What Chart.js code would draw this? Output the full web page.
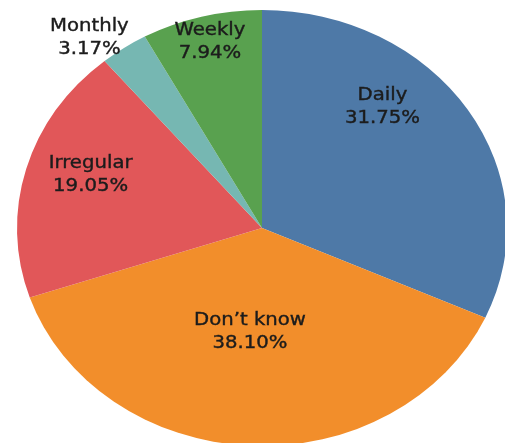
<!DOCTYPE html>
<html>
<head>
<meta charset="utf-8">
<script src="https://cdn.jsdelivr.net/npm/chart.js@4"></script>
<style>
  html, body { margin: 0; padding: 0; background: #fff; overflow: hidden; }
  #pie { display: block; }
</style>
</head>
<body>
<canvas id="pie" width="505" height="460"></canvas>
<script>
// Frequency breakdown
const categories = ['Daily', 'Don\u2019t know', 'Irregular', 'Monthly', 'Weekly'];
const shares = [31.75, 38.10, 19.05, 3.17, 7.94];
const colors = ['#4e79a7', '#f28e2b', '#e15759', '#76b7b2', '#59a14f'];

// label placement: fraction of the radius and angle nudge (degrees)
const labelSpots = [
  { r: 0.74, da: -15.5 },
  { r: 0.48, da: 3 },
  { r: 0.74, da: 3.3 },
  { r: 1.12, da: -4.7 },
  { r: 0.88, da: 0.3 }
];

const STRETCH = 245 / 218; // pie is drawn wider than tall

const stretchPlugin = {
  id: 'stretch',
  beforeDatasetsDraw(chart) {
    const { ctx, chartArea } = chart;
    const cx = (chartArea.left + chartArea.right) / 2;
    ctx.save();
    ctx.translate(cx, 0);
    ctx.scale(STRETCH, 1);
    ctx.translate(-cx, 0);
  },
  afterDatasetsDraw(chart) {
    const { ctx } = chart;
    const meta = chart.getDatasetMeta(0);
    ctx.fillStyle = '#1c1c1c';
    ctx.strokeStyle = '#1c1c1c';
    ctx.lineWidth = 0.4;
    ctx.font = '17.5px "DejaVu Sans"';
    ctx.textAlign = 'center';
    ctx.textBaseline = 'middle';
    meta.data.forEach((arc, i) => {
      const spot = labelSpots[i];
      const mid = (arc.startAngle + arc.endAngle) / 2 + spot.da * Math.PI / 180;
      const r = arc.outerRadius * spot.r;
      const px = arc.x + Math.cos(mid) * r;
      const py = arc.y + Math.sin(mid) * r;
      const lines = [categories[i], shares[i].toFixed(2) + '%'];
      lines.forEach((t, k) => {
        const ty = py + (k === 0 ? -11.5 : 11.5);
        ctx.fillText(t, px, ty);
        ctx.strokeText(t, px, ty);
      });
    });
    ctx.restore();
  }
};

new Chart(document.getElementById('pie'), {
  type: 'pie',
  data: {
    labels: categories,
    datasets: [{
      data: shares,
      backgroundColor: colors,
      borderWidth: 0
    }]
  },
  options: {
    responsive: false,
    animation: false,
    layout: { padding: { top: 10, bottom: 14, left: 44, right: 25 } },
    plugins: {
      legend: { display: false },
      tooltip: { enabled: false }
    }
  },
  plugins: [stretchPlugin]
});
</script>
</body>
</html>
